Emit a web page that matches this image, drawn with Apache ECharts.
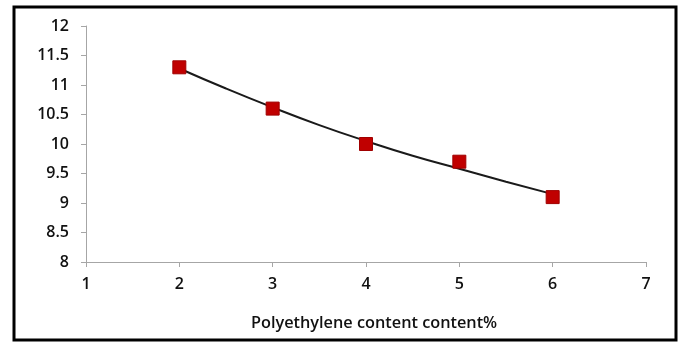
<!DOCTYPE html>
<html>
<head>
<meta charset="utf-8">
<script src="https://cdn.jsdelivr.net/npm/echarts@6/dist/echarts.min.js"></script>
<style>
html,body{margin:0;padding:0;background:#fff;}
#chart{width:683px;height:343px;}
</style>
</head>
<body>
<div id="chart"></div>
<script>
// Measured values
const contentPct = [2, 3, 4, 5, 6];
const measured = [11.3, 10.6, 10.0, 9.7, 9.1];
// Trend curve points
const trendX = [2, 2.5, 3, 3.5, 4, 4.5, 5, 5.5, 6];
const trendY = [11.28, 10.94, 10.62, 10.32, 10.05, 9.8, 9.58, 9.36, 9.15];
const xAxisTitle = 'Polyethylene content content%';

const chart = echarts.init(document.getElementById('chart'));
const font = 'Open Sans';
chart.setOption({
  animation: false,
  backgroundColor: '#fff',
  grid: { left: 86, right: 37, top: 26, bottom: 81 },
  graphic: [{
    type: 'rect',
    shape: { x: 14, y: 7, width: 662, height: 333 },
    style: { fill: 'none', stroke: '#000', lineWidth: 3 },
    silent: true
  }, {
    type: 'text',
    left: 251, top: 315,
    style: { text: xAxisTitle, font: '600 16.3px "Open Sans"', fill: '#111' }
  }],
  xAxis: {
    type: 'value', min: 1, max: 7, interval: 1,
    axisLine: { show: true, lineStyle: { color: '#a6a6a6', width: 1 } },
    axisTick: { show: true, length: 5, lineStyle: { color: '#a6a6a6' } },
    splitLine: { show: false },
    axisLabel: { margin: 14, color: '#111', fontFamily: font, fontWeight: 600, fontSize: 16 }
  },
  yAxis: {
    type: 'value', min: 8, max: 12, interval: 0.5,
    axisLine: { show: true, lineStyle: { color: '#a6a6a6', width: 1 } },
    axisTick: { show: true, length: 5, lineStyle: { color: '#a6a6a6' } },
    splitLine: { show: false },
    axisLabel: { margin: 17, color: '#111', fontFamily: font, fontWeight: 600, fontSize: 16 }
  },
  series: [{
    type: 'line',
    data: trendX.map((x, i) => [x, trendY[i]]),
    smooth: true,
    showSymbol: false,
    lineStyle: { color: '#1a1a1a', width: 2 },
    z: 2
  }, {
    type: 'scatter',
    data: contentPct.map((x, i) => [x, measured[i]]),
    symbol: 'rect',
    symbolSize: 13,
    itemStyle: { color: '#c00000', borderColor: '#a00000', borderWidth: 1, opacity: 1 },
    z: 3
  }]
});
</script>
</body>
</html>
